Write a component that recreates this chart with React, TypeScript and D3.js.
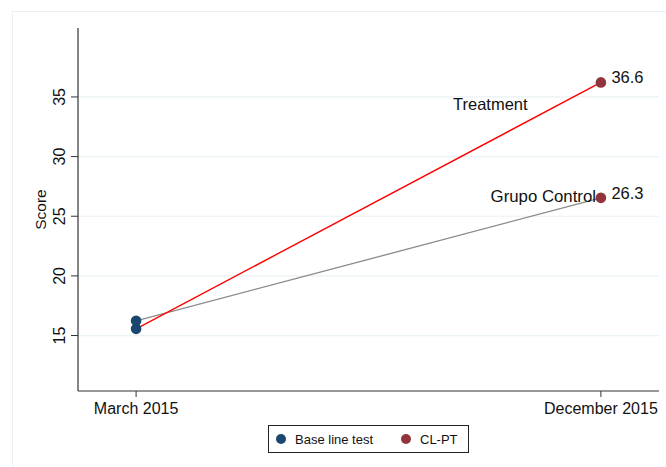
import React from "react";
import * as d3 from "d3";

const periods = ["March 2015", "December 2015"];
const treatmentScores = [15.56, 36.22];
const controlScores = [16.23, 26.54];
const endLabels = ["36.6", "26.3"];
const seriesNames = ["Treatment", "Grupo Control"];
const yTicks = [15, 20, 25, 30, 35];
const legendItems = ["Base line test", "CL-PT"];

const W = 666;
const H = 467;
const FONT = "'Liberation Sans', Arial, Helvetica, sans-serif";
const BLUE = "#1a476f";
const MAROON = "#90353b";

export default function App() {
  const left = 78, right = 659, top = 28, bottom = 391;
  const x = d3.scaleLinear().domain([-0.125, 1.125]).range([left, right]);
  const y = d3.scaleLinear().domain([10.35, 40.78]).range([bottom, top]);
  const line = d3.line<number>().x((_, i) => x(i)).y((v) => y(v));

  return (
    <svg width={W} height={H} style={{ position: "fixed", left: 0, top: 0, background: "#fff" }} fontFamily={FONT}>
      <rect x={12.5} y={11.5} width={660} height={460} fill="#fff" stroke="#eaf0f0" />
      {yTicks.map((t) => (
        <g key={t}>
          <line x1={left} x2={right} y1={y(t)} y2={y(t)} stroke="#eaf2f3" strokeWidth={1.2} />
          <line x1={left - 7} x2={left} y1={y(t)} y2={y(t)} stroke="#333" strokeWidth={1} />
          <text transform={`translate(65,${y(t)}) rotate(-90)`} textAnchor="middle" fontSize={16} fill="#111">
            {t}
          </text>
        </g>
      ))}
      <line x1={left} x2={left} y1={top} y2={bottom} stroke="#333" strokeWidth={1.2} />
      <line x1={left} x2={right} y1={bottom} y2={bottom} stroke="#333" strokeWidth={1.2} />
      {periods.map((p, i) => (
        <g key={p}>
          <line x1={x(i)} x2={x(i)} y1={bottom} y2={bottom + 6} stroke="#333" strokeWidth={1} />
          <text x={x(i)} y={414} textAnchor="middle" fontSize={16} fill="#111">
            {p}
          </text>
        </g>
      ))}
      <text transform={`translate(46,${(top + bottom) / 2}) rotate(-90)`} textAnchor="middle" fontSize={15.5} fill="#111">
        Score
      </text>
      <path d={line(controlScores) || ""} fill="none" stroke="#8a8a8a" strokeWidth={1.3} />
      <path d={line(treatmentScores) || ""} fill="none" stroke="#ff0000" strokeWidth={1.4} />
      {[treatmentScores, controlScores].map((s, k) => (
        <g key={k}>
          <circle cx={x(0)} cy={y(s[0])} r={5.3} fill={BLUE} />
          <circle cx={x(1)} cy={y(s[1])} r={5.3} fill={MAROON} />
          <text x={x(1) + 10.5} y={y(s[1]) + 1} fontSize={16.5} fill="#111">
            {endLabels[k]}
          </text>
        </g>
      ))}
      <text x={453} y={110} fontSize={16.5} fill="#111">
        {seriesNames[0]}
      </text>
      <text x={596} y={201.5} textAnchor="end" fontSize={16.8} fill="#111">
        {seriesNames[1]}
      </text>
      <rect x={268.5} y={425.5} width={200} height={27} fill="#fff" stroke="#222" strokeWidth={1} />
      <circle cx={281} cy={439} r={5} fill={BLUE} />
      <text x={295} y={444} fontSize={13} fill="#111">
        {legendItems[0]}
      </text>
      <circle cx={406} cy={439} r={5} fill={MAROON} />
      <text x={420} y={444} fontSize={13} fill="#111">
        {legendItems[1]}
      </text>
    </svg>
  );
}
